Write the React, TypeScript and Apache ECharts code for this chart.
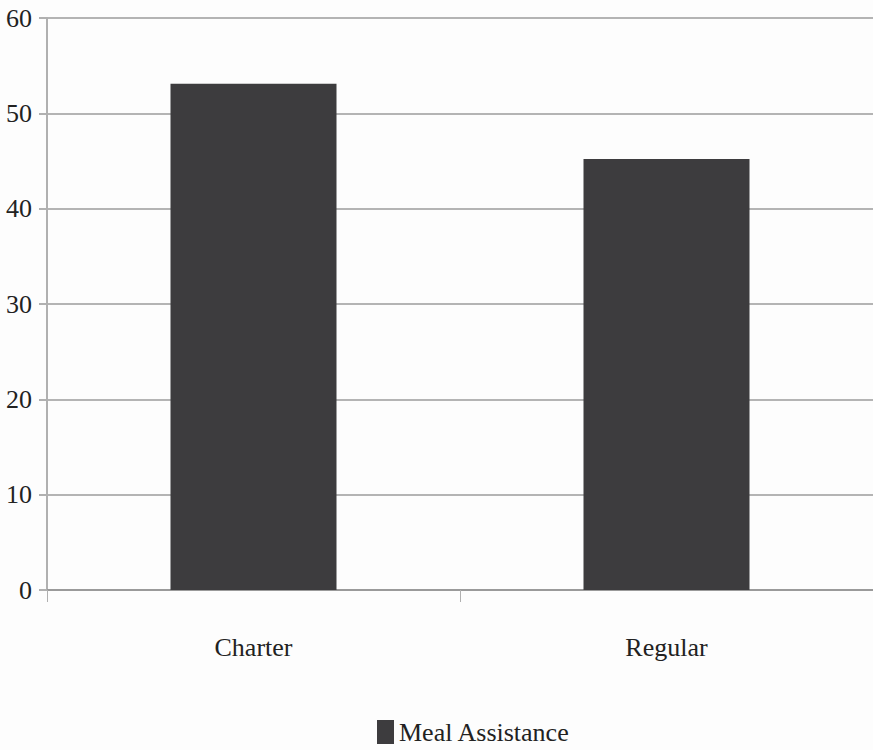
import React, { useEffect, useRef } from "react";
import * as echarts from "echarts";

const categories = ["Charter", "Regular"];
const mealAssistance = [53.1, 45.2];
const seriesName = "Meal Assistance";

export default function App() {
  const ref = useRef<HTMLDivElement>(null);
  useEffect(() => {
    document.body.style.margin = "0";
    const chart = echarts.init(ref.current!, null, { renderer: "svg" });
    const font = "Liberation Serif";
    chart.setOption({
      animation: false,
      backgroundColor: "#fdfdfd",
      textStyle: { fontFamily: font },
      grid: { left: 47, right: -7, top: 18, bottom: 160, containLabel: false },
      legend: {
        bottom: 0,
        left: 372,
        icon: "rect",
        itemWidth: 17,
        itemHeight: 24,
        itemGap: 6,
        textStyle: { fontFamily: font, fontSize: 26, color: "#222" },
        data: [seriesName],
      },
      xAxis: {
        type: "category",
        data: categories,
        axisLine: { lineStyle: { color: "#9a9a9a", width: 2 } },
        axisTick: { show: true, length: 12, lineStyle: { color: "#b0b0b0", width: 1 } },
        axisLabel: { fontFamily: font, fontSize: 26, color: "#222", margin: 44 },
      },
      yAxis: {
        type: "value",
        min: 0,
        max: 60,
        interval: 10,
        axisLine: { show: true, lineStyle: { color: "#b0b0b0", width: 2 } },
        axisTick: { show: true, length: 8, lineStyle: { color: "#b0b0b0", width: 2 } },
        axisLabel: { fontFamily: font, fontSize: 26, color: "#222", margin: 15 },
        splitLine: { lineStyle: { color: "#b4b4b4", width: 2 } },
      },
      series: [
        {
          name: seriesName,
          type: "bar",
          data: mealAssistance,
          barWidth: 166,
          itemStyle: { color: "#3d3c3e" },
        },
      ],
    });
    return () => chart.dispose();
  }, []);
  return <div ref={ref} style={{ width: 873, height: 750 }} />;
}
